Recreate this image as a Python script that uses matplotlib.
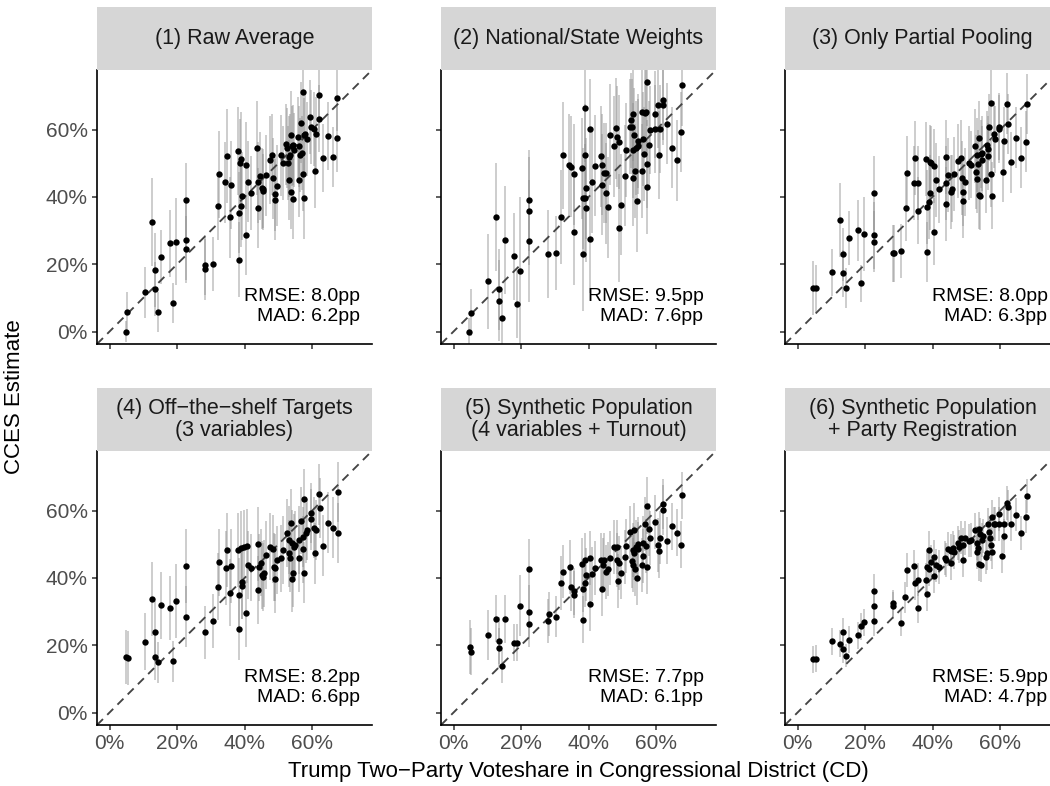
import matplotlib
matplotlib.use("Agg")
import matplotlib.pyplot as plt
import numpy as np

plt.rcParams['font.family'] = ['Liberation Sans', 'DejaVu Sans']

titles = ["(1) Raw Average", "(2) National/State Weights", "(3) Only Partial Pooling",
          "(4) Off\u2212the\u2212shelf Targets\n(3 variables)",
          "(5) Synthetic Population\n(4 variables + Turnout)",
          "(6) Synthetic Population\n+ Party Registration"]
rmse = ["8.0", "9.5", "8.0", "8.2", "7.7", "5.9"]
mad = ["6.2", "7.6", "6.3", "6.6", "6.1", "4.7"]
tick_vals = [0, 20, 40, 60]
tick_labels = ["0%", "20%", "40%", "60%"]
x_title = "Trump Two\u2212Party Voteshare in Congressional District (CD)"
y_title = "CCES Estimate"

p1_x = [4.8, 5.2, 10.4, 12.6, 13.4, 13.4, 14.4, 15.3, 17.9, 18.8,
        19.8, 22.5, 22.5, 22.5, 28.2, 28.3, 30.5, 32.1, 32.4, 34.3,
        34.7, 35.7, 35.9, 38.0, 38.3, 38.3, 38.7, 39.0, 39.0, 39.1,
        40.3, 40.4, 40.9, 41.8, 43.8, 43.9, 44.0, 44.6, 45.2, 45.4,
        45.5, 46.4, 47.4, 48.2, 48.5, 48.9, 49.0, 49.5, 50.7, 51.3,
        52.1, 52.5, 52.9, 53.1, 53.2, 53.5, 53.6, 53.8, 54.1, 54.2,
        54.4, 54.6, 55.7, 56.0, 56.0, 56.3, 56.7, 57.1, 57.3, 57.4,
        57.6, 57.6, 58.0, 58.4, 59.4, 59.5, 60.4, 60.7, 61.0, 62.0,
        62.1, 63.1, 64.7, 66.1, 67.4, 67.4]
p1_y = [0.0, 5.8, 11.6, 32.5, 18.4, 12.7, 5.8, 22.2, 26.2, 8.4,
        26.7, 39.2, 27.2, 24.4, 19.8, 18.5, 20.0, 37.2, 46.7, 44.3,
        52.1, 33.9, 43.5, 53.7, 21.4, 35.3, 50.1, 51.2, 37.2, 40.2,
        49.4, 28.7, 44.5, 41.2, 54.6, 44.3, 36.7, 46.2, 42.6, 41.8,
        42.2, 46.4, 50.9, 52.5, 45.5, 41.0, 39.2, 43.3, 52.3, 50.1,
        55.6, 54.5, 50.1, 45.0, 51.9, 52.5, 58.4, 41.5, 55.1, 39.4,
        55.4, 54.0, 57.7, 45.1, 55.0, 52.5, 62.0, 53.1, 46.7, 71.3,
        58.5, 39.6, 58.6, 57.3, 63.7, 60.9, 60.3, 47.8, 58.6, 70.3,
        63.2, 51.6, 58.1, 51.9, 69.5, 57.4]
p1_err = [3, 6, 7.5, 13, 11, 8, 6, 8, 10, 6,
          13, 11, 12, 10, 9, 9, 8, 10, 13, 12,
          14, 12, 13, 13, 11, 12, 13, 14, 12, 13,
          13, 12, 12, 11, 14, 12, 12, 13, 12, 11,
          12, 12, 13, 12, 12, 11, 12, 12, 12, 11,
          12, 12, 11, 12, 12, 12, 13, 11, 12, 12,
          12, 11, 12, 11, 12, 11, 12, 11, 11, 12,
          11, 12, 12, 11, 11, 11, 11, 11, 11, 11,
          10, 10, 10, 9, 10, 10]

p2_x = [4.7, 5.2, 10.3, 12.5, 13.4, 13.4, 14.3, 15.2, 17.9, 18.7,
        19.6, 22.4, 22.4, 22.4, 28.1, 30.4, 31.9, 32.3, 34.3, 34.7,
        35.7, 35.8, 37.9, 38.2, 38.4, 38.8, 38.8, 39.0, 39.1, 39.3,
        40.4, 40.4, 40.9, 41.9, 43.8, 44.0, 44.0, 44.6, 45.2, 45.1,
        45.8, 46.2, 47.5, 48.2, 48.5, 48.9, 48.9, 49.6, 50.7, 51.2,
        52.1, 52.5, 52.7, 53.0, 53.1, 53.1, 53.5, 53.8, 54.0, 54.3,
        54.5, 54.7, 55.9, 55.9, 56.2, 56.3, 56.7, 57.0, 57.3, 57.4,
        57.4, 58.0, 58.3, 59.5, 59.6, 60.4, 60.9, 61.0, 61.9, 62.1,
        63.2, 64.7, 66.1, 67.4, 67.6]
p2_y = [0.0, 5.6, 14.9, 34.1, 12.5, 9.2, 4.0, 27.2, 22.3, 8.2,
        18.1, 39.0, 35.9, 26.9, 23.1, 23.4, 34.1, 52.3, 49.5, 48.9,
        29.7, 46.7, 48.5, 23.0, 39.6, 39.6, 66.4, 52.5, 36.6, 42.6,
        60.1, 27.5, 44.3, 49.3, 52.1, 49.5, 43.6, 47.1, 47.1, 41.1,
        36.9, 58.4, 55.1, 60.4, 57.9, 56.4, 30.7, 37.7, 46.3, 53.9,
        60.9, 62.7, 60.9, 64.6, 53.8, 45.5, 58.4, 47.8, 54.5, 38.7,
        56.7, 55.0, 65.3, 47.8, 57.2, 52.7, 64.8, 65.3, 49.8, 42.9,
        74.1, 55.4, 59.8, 64.5, 60.1, 67.4, 52.5, 60.1, 67.4, 68.8,
        61.7, 54.6, 50.9, 59.3, 73.1]
p2_err = [4, 7, 14, 16, 12, 12, 8, 16, 13, 10,
          22, 15, 16, 18, 13, 11, 14, 16, 15, 15,
          16, 15, 15, 17, 15, 16, 16, 15, 16, 15,
          15, 16, 15, 15, 15, 15, 15, 15, 15, 15,
          15, 15, 15, 15, 15, 14, 16, 15, 15, 14,
          14, 14, 14, 14, 14, 14, 14, 14, 14, 15,
          14, 14, 13, 14, 14, 14, 13, 13, 13, 14,
          13, 13, 13, 13, 13, 13, 13, 13, 12, 12,
          12, 12, 12, 12, 12]

p3_x = [4.7, 5.5, 10.2, 12.6, 13.4, 13.4, 14.3, 15.3, 17.9, 18.8,
        19.7, 22.5, 22.5, 22.5, 28.2, 28.6, 30.5, 32.0, 32.4, 34.4,
        34.8, 35.8, 35.8, 37.9, 38.4, 38.4, 38.9, 39.1, 39.2, 39.4,
        40.5, 40.5, 41.0, 42.0, 43.9, 44.0, 44.0, 44.6, 45.4, 45.6,
        46.4, 47.5, 48.3, 48.6, 49.0, 49.0, 49.7, 50.8, 51.3, 52.4,
        52.8, 53.1, 53.2, 53.4, 53.6, 53.8, 54.1, 54.3, 54.5, 54.7,
        55.9, 56.0, 56.3, 56.5, 56.8, 57.3, 57.4, 57.6, 58.1, 58.5,
        59.6, 59.7, 60.9, 61.0, 62.1, 62.2, 63.2, 64.8, 66.3, 67.6,
        67.8]
p3_y = [12.9, 12.9, 17.6, 33.2, 22.9, 17.3, 13.0, 27.7, 30.1, 14.3,
        29.1, 41.2, 28.6, 26.7, 23.2, 23.2, 23.9, 36.8, 47.1, 44.1,
        51.6, 44.1, 35.9, 51.3, 23.6, 37.1, 38.6, 50.5, 41.3, 50.0,
        49.1, 29.7, 44.9, 42.2, 51.8, 44.1, 37.8, 46.6, 41.4, 42.4,
        46.7, 50.6, 51.7, 45.5, 41.4, 38.7, 44.4, 50.0, 49.6, 55.1,
        47.3, 45.3, 52.5, 49.9, 57.5, 40.6, 40.3, 52.7, 51.0, 52.9,
        45.1, 55.5, 54.1, 52.1, 60.7, 46.9, 68.0, 40.4, 58.6, 57.1,
        60.2, 60.9, 47.5, 56.6, 67.7, 61.7, 50.3, 57.6, 51.7, 56.4,
        67.6]
p3_err = [8, 7, 7, 11, 8, 7, 6, 8, 9, 5.5,
          11, 11, 10, 9, 8.5, 8.5, 8, 10, 11, 11,
          11, 11, 10, 11, 9, 11, 11, 11, 11, 11,
          11, 10, 11, 10, 11, 11, 11, 11, 11, 10,
          11, 11, 11, 11, 10, 11, 10, 11, 10, 11,
          11, 10, 11, 10, 11, 10, 10, 10, 10, 11,
          10, 10, 10, 10, 10, 10, 10, 10, 10, 10,
          10, 10, 9, 10, 9, 9, 9, 9, 9, 9,
          9]

p4_x = [4.8, 5.4, 10.4, 12.6, 13.4, 13.4, 14.4, 15.3, 17.9, 18.8,
        19.8, 22.5, 22.5, 28.3, 30.5, 32.1, 32.5, 34.4, 34.8, 35.7,
        35.9, 38.0, 38.3, 38.4, 38.8, 39.2, 39.3, 39.7, 40.5, 40.6,
        41.0, 41.9, 43.9, 44.1, 44.2, 44.7, 45.2, 45.4, 45.6, 46.4,
        47.6, 48.4, 48.6, 49.1, 49.1, 49.6, 50.7, 51.3, 52.5, 53.1,
        53.2, 53.3, 53.7, 53.9, 53.9, 54.3, 54.6, 54.9, 56.0, 56.2,
        56.7, 57.2, 57.4, 57.5, 57.6, 58.2, 58.5, 59.6, 59.7, 60.5,
        61.0, 60.9, 62.1, 62.2, 63.3, 64.8, 66.2, 67.5, 67.7]
p4_y = [16.4, 16.2, 21.1, 33.7, 24.0, 16.6, 14.9, 31.9, 31.1, 15.2,
        33.0, 43.4, 28.5, 23.8, 27.2, 37.4, 44.6, 42.9, 48.3, 35.6,
        43.5, 48.4, 24.7, 35.0, 48.8, 37.7, 38.9, 49.1, 29.5, 49.6,
        43.8, 43.0, 50.0, 36.4, 43.1, 44.5, 40.9, 40.3, 41.4, 46.8,
        49.3, 48.6, 43.2, 43.0, 39.6, 45.3, 45.8, 48.3, 53.3, 47.3,
        51.3, 45.9, 56.3, 50.3, 39.8, 41.4, 49.1, 49.9, 45.8, 51.3,
        57.0, 48.5, 52.1, 63.5, 41.6, 53.4, 54.3, 59.3, 57.4, 54.9,
        54.2, 47.3, 64.8, 60.8, 49.6, 56.4, 54.9, 53.4, 65.5]
p4_err = [8, 8, 8.5, 11, 9, 7, 6, 10, 9.5, 6,
          11, 11, 9, 8, 8, 10, 10, 11, 11, 10,
          11, 11, 9, 11, 11, 10, 11, 11, 10, 11,
          10, 10, 11, 10, 10, 10, 10, 10, 10, 10,
          10, 10, 10, 10, 10, 10, 10, 10, 10, 10,
          10, 10, 10, 10, 10, 10, 10, 10, 10, 10,
          10, 10, 9, 9, 9, 9, 9, 9, 9, 9,
          9, 9, 9, 9, 9, 9, 9, 9, 9]

p5_x = [4.8, 5.3, 10.3, 12.5, 13.4, 13.4, 14.3, 15.2, 17.8, 18.7,
        19.7, 22.4, 22.4, 22.4, 28.1, 28.3, 30.4, 31.9, 32.3, 34.4,
        34.7, 35.6, 35.7, 38.0, 38.2, 38.4, 38.8, 38.9, 39.1, 40.4,
        40.4, 41.0, 41.8, 43.8, 44.0, 44.2, 44.6, 45.1, 45.6, 46.3,
        47.5, 48.3, 48.5, 48.8, 49.0, 49.6, 50.7, 51.2, 52.2, 52.9,
        53.1, 53.1, 53.3, 53.4, 53.8, 54.0, 54.2, 54.5, 54.7, 55.9,
        56.0, 56.2, 56.7, 57.0, 57.4, 57.4, 58.0, 58.3, 59.6, 60.4,
        60.8, 61.0, 62.0, 62.1, 63.2, 64.7, 66.2, 67.4, 67.6]
p5_y = [19.5, 18.1, 23.1, 27.9, 21.3, 19.2, 13.7, 27.8, 20.8, 20.7,
        31.8, 42.5, 30.0, 26.4, 27.3, 29.3, 28.5, 38.4, 41.9, 43.2,
        37.2, 36.0, 35.0, 44.0, 27.6, 36.8, 45.4, 38.4, 41.0, 45.8,
        32.1, 41.2, 42.9, 45.3, 36.7, 43.9, 45.3, 41.7, 42.6, 45.8,
        49.3, 49.1, 45.3, 39.2, 44.3, 41.6, 46.1, 49.5, 53.5, 45.1,
        48.3, 43.8, 54.3, 47.3, 42.7, 49.3, 39.9, 50.1, 48.6, 43.8,
        46.5, 50.3, 56.1, 49.5, 61.5, 43.1, 54.4, 51.9, 56.6, 49.7,
        47.9, 52.0, 62.0, 60.1, 51.1, 55.3, 53.4, 49.9, 64.5]
p5_err = [8, 7, 7.5, 7, 7, 6, 5, 7, 5.5, 5.5,
          9, 9, 8, 7, 6.5, 6.5, 6, 8, 8, 8,
          7, 7, 7, 8, 7, 7, 8, 7, 8, 8,
          8, 8, 8, 8, 8, 8, 8, 8, 8, 8,
          8, 8, 8, 8, 8, 8, 8, 8, 8, 8,
          8, 8, 8, 8, 8, 8, 8, 8, 8, 8,
          8, 8, 8, 8, 8.5, 8, 8, 8, 8, 8,
          8, 8, 7.5, 7.5, 7, 7, 7, 7, 7]

p6_x = [4.7, 5.5, 10.2, 12.6, 13.4, 13.4, 14.3, 15.3, 18.0, 18.8,
        19.7, 22.5, 22.5, 22.5, 28.2, 28.4, 30.5, 31.9, 32.4, 34.4,
        34.8, 35.8, 35.8, 37.9, 38.4, 38.4, 38.9, 39.0, 39.4, 40.3,
        40.5, 41.0, 42.0, 43.8, 44.0, 44.6, 45.4, 45.4, 45.9, 46.3,
        47.5, 47.9, 48.4, 49.0, 48.9, 49.7, 50.8, 51.3, 52.4, 53.0,
        53.1, 53.3, 53.6, 53.8, 54.1, 54.4, 54.5, 54.8, 55.8, 56.0,
        56.3, 56.6, 57.0, 57.4, 57.6, 57.6, 58.1, 58.5, 59.5, 59.7,
        60.6, 61.0, 61.1, 62.1, 62.2, 63.2, 64.8, 66.3, 67.6, 67.8]
p6_y = [15.8, 16.0, 21.2, 20.5, 24.0, 18.8, 16.9, 21.6, 22.9, 25.6,
        26.8, 36.1, 31.7, 27.3, 32.4, 31.8, 26.7, 34.2, 42.3, 43.4,
        38.5, 39.5, 31.1, 39.5, 35.2, 43.1, 48.4, 42.6, 44.8, 40.5,
        46.2, 43.7, 43.2, 45.9, 45.3, 48.6, 44.3, 48.1, 48.9, 47.7,
        50.4, 49.3, 52.0, 45.3, 49.9, 51.9, 51.1, 51.3, 54.3, 50.3,
        47.6, 49.0, 44.1, 54.6, 52.9, 43.8, 51.3, 52.5, 46.3, 47.4,
        55.9, 53.5, 51.8, 49.9, 47.6, 58.0, 56.1, 56.1, 59.0, 56.1,
        46.6, 52.4, 56.0, 62.2, 61.0, 55.9, 58.8, 53.3, 58.2, 64.3]
p6_err = [4, 4, 4, 4, 4, 4, 3.5, 4, 4, 4,
          4, 5, 4.5, 4.5, 4, 4, 4, 4.5, 5, 5,
          5, 5, 4.5, 5, 5, 5, 5.5, 5, 5, 5,
          5, 5, 5, 5, 5, 5, 5, 5, 5, 5,
          5, 5, 5, 5, 5, 5, 5, 5, 5, 5,
          5, 5, 5, 5, 5, 5, 5, 5, 5, 5,
          5, 5, 5, 5, 5, 5, 5, 5, 5, 5,
          5, 5, 5, 5, 5, 5, 5, 5, 5, 5]

panels = [(p1_x, p1_y, p1_err), (p2_x, p2_y, p2_err), (p3_x, p3_y, p3_err),
          (p4_x, p4_y, p4_err), (p5_x, p5_y, p5_err), (p6_x, p6_y, p6_err)]

W, H = 1050, 786
fig = plt.figure(figsize=(W / 100, H / 100), dpi=100)
lefts = [97, 441, 785]
tops = [70, 451]
pw, ph = 275, 274
strip_h = 63
lim = (-3.7, 77.7)

for i in range(6):
    r, c = divmod(i, 3)
    ax = fig.add_axes([lefts[c] / W, 1 - (tops[r] + ph) / H, pw / W, ph / H])
    x, y, e = (np.asarray(v, float) for v in panels[i])
    ax.vlines(x, y - e, y + e, colors='#8c8c8c', alpha=0.45, lw=1.35, zorder=1)
    ax.axline((0, 0), slope=1, color='#444444', ls=(0, (4.5, 3.2)), lw=1.35, zorder=2)
    ax.scatter(x, y, s=21, c='black', linewidths=0, zorder=3)
    ax.set_xlim(lim)
    ax.set_ylim(lim)
    ax.set_xticks(tick_vals)
    ax.set_yticks(tick_vals)
    ax.set_xticklabels(tick_labels if r == 1 else [])
    ax.set_yticklabels(tick_labels if c == 0 else [])
    for s in ['top', 'right']:
        ax.spines[s].set_visible(False)
    for s in ['left', 'bottom']:
        ax.spines[s].set_linewidth(1.2)
        ax.spines[s].set_color('black')
    ax.tick_params(length=3.5, width=1.1, color='#333333', labelsize=15,
                   labelcolor='#4d4d4d', pad=3)
    ax.text(74, 7.5, f"RMSE: {rmse[i]}pp\nMAD: {mad[i]}pp", ha='right', va='center',
            multialignment='right', fontsize=14, color='black', linespacing=1.25)
    sax = fig.add_axes([lefts[c] / W, 1 - tops[r] / H, pw / W, strip_h / H])
    sax.set_facecolor('#d6d6d6')
    sax.set_xticks([])
    sax.set_yticks([])
    for s in sax.spines.values():
        s.set_visible(False)
    sax.text(0.5, 0.5, titles[i], ha='center', va='center', fontsize=15.5,
             color='#1a1a1a', multialignment='center', linespacing=1.05,
             transform=sax.transAxes)

fig.text(578 / W, 1 - 772 / H, x_title, ha='center', va='center', fontsize=16, color='black')
fig.text(15 / W, 1 - 397 / H, y_title, ha='center', va='center', fontsize=16,
         rotation=90, color='black')

fig.savefig("out.png", dpi=100)
